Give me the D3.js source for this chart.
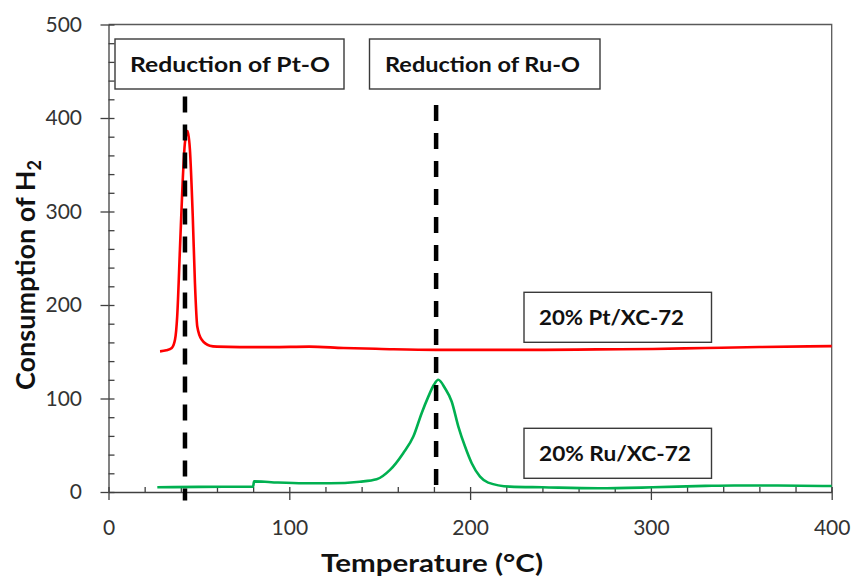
<!DOCTYPE html>
<html>
<head>
<meta charset="utf-8">
<script src="https://cdn.jsdelivr.net/npm/d3@7"></script>
<style>
  body { margin: 0; background: #fff; }
  text { font-family: Lato, "Noto Sans", sans-serif; }
</style>
</head>
<body>
<svg></svg>
<script>
// TPR curves
var ptTemp = [28.5, 32, 35, 36.8, 38, 39.5, 41, 42.3, 43.8, 45, 46.6, 47.8, 49.1, 51.5, 56, 60, 72.7, 90, 111, 130, 151, 181, 210, 241, 270, 301, 330, 360, 400];
var ptH2   = [150.4, 151.5, 154, 163, 188, 259, 331, 374, 386, 367, 295, 224, 177, 163, 156.5, 155.5, 155, 155, 155.5, 154, 153, 152, 152, 152, 152.5, 153, 154, 155, 156];

var ruTemp = [27, 50, 80, 80.5, 90, 108, 122.5, 139, 148.3, 155.7, 163, 168.6, 173.2, 176.9, 180, 182.4, 186.1, 189.8, 193.5, 197.2, 200.9, 205.5, 210, 222, 240, 271, 301, 330, 346, 370, 400];
var ruH2   = [5, 5.5, 5.8, 11.4, 10.5, 9.3, 9.3, 11, 13.6, 23.6, 41.5, 59.3, 84.3, 102, 114.7, 120, 111, 96.8, 70, 48.6, 30.8, 16.4, 10, 5.7, 5, 4, 5, 6.5, 7, 7, 6.4];

var xTicks = [0, 100, 200, 300, 400];
var yTicks = [0, 100, 200, 300, 400, 500];

// reduction peak markers (temperature, top/bottom of dashed line)
var peakTemps = [42.3, 181.2];
var peakTop = [423, 414];
var peakBottom = [-9, -3];
var peakLabels = ['Reduction of Pt-O', 'Reduction of Ru-O'];
var seriesLabels = ['20% Pt/XC-72', '20% Ru/XC-72'];

var width = 853, height = 578;
var svg = d3.select('svg').attr('width', width).attr('height', height);

var x = d3.scaleLinear().domain([0, 400]).range([108.5, 831.7]);
var y = d3.scaleLinear().domain([0, 500]).range([492, 24.5]);

var axisColor = '#404040';

// frame (top/right)
svg.append('path')
  .attr('d', 'M' + x(0) + ',' + y(500) + 'H' + x(400) + 'V' + y(0))
  .attr('fill', 'none').attr('stroke', '#595959').attr('stroke-width', 1.3);

// minor ticks (inward)
var xMinor = svg.append('g').attr('transform', 'translate(0,' + y(0) + ')')
  .call(d3.axisBottom(x).tickValues(d3.range(0, 401, 20)).tickSizeInner(-5).tickSizeOuter(0).tickFormat(''));
var yMinor = svg.append('g').attr('transform', 'translate(' + x(0) + ',0)')
  .call(d3.axisLeft(y).tickValues(d3.range(0, 501, 20)).tickSizeInner(-6).tickSizeOuter(0).tickFormat(''));
[xMinor, yMinor].forEach(function(g){ g.select('.domain').remove(); });

var xAxis = svg.append('g').attr('transform', 'translate(0,' + y(0) + ')')
  .call(d3.axisBottom(x).tickValues(xTicks).tickSize(8).tickSizeOuter(0).tickPadding(20));
var yAxis = svg.append('g').attr('transform', 'translate(' + x(0) + ',0)')
  .call(d3.axisLeft(y).tickValues(yTicks).tickSize(8).tickSizeOuter(0).tickPadding(18.5));

svg.selectAll('.tick line, .domain').attr('stroke', axisColor).attr('stroke-width', 1.3);
[xAxis, yAxis].forEach(function(g){
  g.selectAll('text').attr('font-size', 21).attr('fill', '#333').style('font-family', 'Lato, sans-serif');
});

// axis titles
svg.append('text')
  .attr('x', 432).attr('y', 572)
  .attr('text-anchor', 'middle')
  .attr('font-size', 25).attr('font-weight', 'bold').attr('fill', '#111')
  .attr('textLength', 222).attr('lengthAdjust', 'spacingAndGlyphs')
  .text('Temperature (°C)');

var yt = svg.append('text')
  .attr('transform', 'translate(35,275) rotate(-90)')
  .attr('text-anchor', 'middle')
  .attr('font-size', 27).attr('font-weight', 'bold').attr('fill', '#111');
yt.append('tspan').text('Consumption of H');
yt.append('tspan').attr('font-size', 18).attr('dy', 6).text('2');

// curves
var line = d3.line()
  .x(function(d){ return x(d[0]); })
  .y(function(d){ return y(d[1]); })
  .curve(d3.curveMonotoneX);

svg.append('path')
  .datum(d3.zip(ruTemp, ruH2))
  .attr('d', line)
  .attr('fill', 'none').attr('stroke', '#00b050').attr('stroke-width', 2.6)
  .attr('stroke-linejoin', 'round');

svg.append('path')
  .datum(d3.zip(ptTemp, ptH2))
  .attr('d', line)
  .attr('fill', 'none').attr('stroke', '#ff0000').attr('stroke-width', 2.6)
  .attr('stroke-linejoin', 'round');

// dashed peak markers
svg.selectAll('line.peak')
  .data(peakTemps)
  .enter().append('line')
  .attr('class', 'peak')
  .attr('x1', function(d){ return x(d); })
  .attr('x2', function(d){ return x(d); })
  .attr('y1', function(d, i){ return y(peakTop[i]); })
  .attr('y2', function(d, i){ return y(peakBottom[i]); })
  .attr('stroke', '#000').attr('stroke-width', 4.5)
  .attr('stroke-dasharray', '16,12');

// label boxes
var boxes = [
  {text: peakLabels[0],   x0: 115, x1: 344,   y0: 39,    y1: 89,    anchor: 'middle', tx: 230,  w: 200},
  {text: peakLabels[1],   x0: 369.5, x1: 600, y0: 39,    y1: 89,    anchor: 'middle', tx: 482.5, w: 195},
  {text: seriesLabels[0], x0: 524, x1: 711.5, y0: 292.3, y1: 342.3, anchor: 'start',  tx: 539,  w: 145},
  {text: seriesLabels[1], x0: 524, x1: 711.5, y0: 428.3, y1: 478.3, anchor: 'start',  tx: 539,  w: 152}
];

var bg = svg.selectAll('g.box').data(boxes).enter().append('g').attr('class', 'box');
bg.append('rect')
  .attr('x', function(d){ return d.x0; })
  .attr('y', function(d){ return d.y0; })
  .attr('width', function(d){ return d.x1 - d.x0; })
  .attr('height', function(d){ return d.y1 - d.y0; })
  .attr('fill', '#fff').attr('stroke', '#3a3a3a').attr('stroke-width', 1.4);
bg.append('text')
  .attr('x', function(d){ return d.tx; })
  .attr('y', function(d){ return (d.y0 + d.y1) / 2; })
  .attr('dy', '0.36em')
  .attr('text-anchor', function(d){ return d.anchor; })
  .attr('font-size', 21).attr('font-weight', 'bold').attr('fill', '#111')
  .attr('textLength', function(d){ return d.w; })
  .attr('lengthAdjust', 'spacingAndGlyphs')
  .text(function(d){ return d.text; });
</script>
</body>
</html>
